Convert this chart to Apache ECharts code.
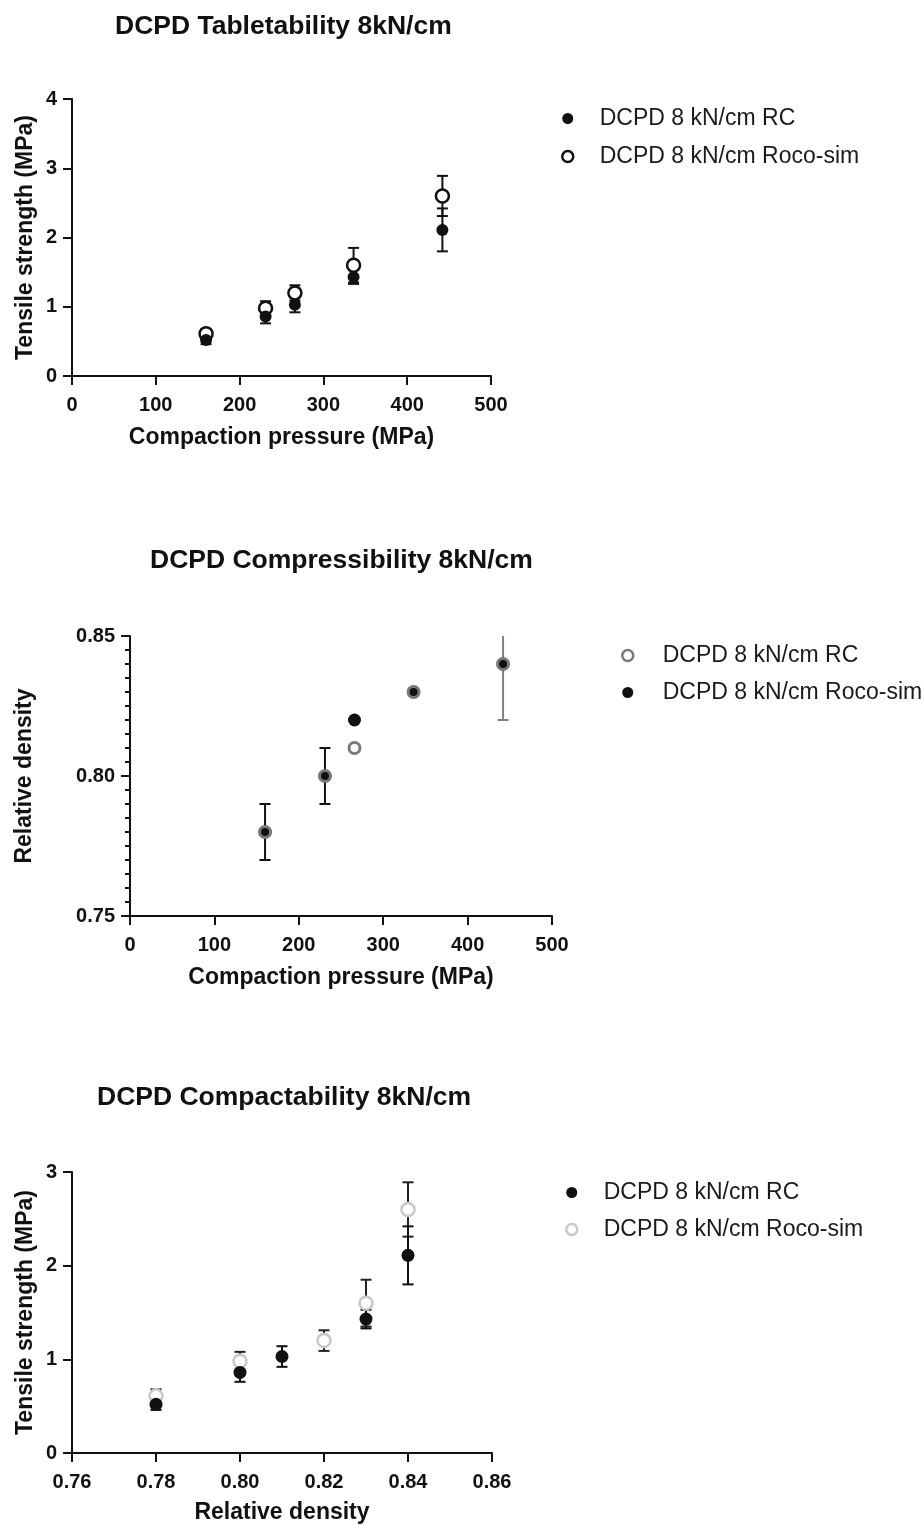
<!DOCTYPE html>
<html lang="en">
  <head>
    <meta charset="UTF-8" />
    <title>DCPD 8kN/cm</title>
    <script src="https://cdn.jsdelivr.net/npm/echarts@6/dist/echarts.min.js"></script>
    <style>
      html,
      body {
        margin: 0;
        padding: 0;
        background: #fff;
      }
      #chart {
        width: 924px;
        height: 1525px;
      }
    </style>
  </head>
  <body>
    <div id="chart"></div>

    <script>
      // compaction pressure (MPa)
      var pressure = [160, 231, 266, 336, 442];
      // tensile strength (MPa), mean and sd
      var tensileRC = [0.52, 0.86, 1.03, 1.43, 2.11];
      var tensileRCErr = [0.06, 0.1, 0.11, 0.1, 0.31];
      var tensileSim = [0.61, 0.98, 1.2, 1.6, 2.6];
      var tensileSimErr = [0.07, 0.1, 0.11, 0.25, 0.29];
      // relative density, mean and sd
      var densityRC = [0.78, 0.8, 0.81, 0.83, 0.84];
      var densityRCErr = [0, 0, 0, 0, 0.02];
      var densitySim = [0.78, 0.8, 0.82, 0.83, 0.84];
      var densitySimErr = [0.01, 0.01, 0, 0, 0];

      var nameRC = "DCPD 8 kN/cm RC";
      var nameSim = "DCPD 8 kN/cm Roco-sim";
      var titles = [
        "DCPD Tabletability 8kN/cm",
        "DCPD Compressibility 8kN/cm",
        "DCPD Compactability 8kN/cm",
      ];

      var FONT = '"Liberation Sans", Arial, sans-serif';
      var INK = "#111";

      var chart = echarts.init(document.getElementById("chart"));

      function pairs(xs, ys) {
        return xs.map((x, i) => [x, ys[i]]);
      }

      function errData(xs, ys, es) {
        return xs.map((x, i) => [x, ys[i], es[i]]).filter((d) => d[2] > 0);
      }

      // error bars drawn through the axis scales
      function errSeries(idx, data, color) {
        return {
          type: "custom",
          xAxisIndex: idx,
          yAxisIndex: idx,
          data: data,
          clip: true,
          silent: true,
          z: 1,
          encode: { x: 0, y: 1 },
          renderItem: function (params, api) {
            var x = api.value(0);
            var y = api.value(1);
            var e = api.value(2);
            var top = api.coord([x, y + e]);
            var bot = api.coord([x, y - e]);
            var w = 5.5;
            var st = { stroke: color, lineWidth: 2 };
            return {
              type: "group",
              children: [
                { type: "line", shape: { x1: top[0], y1: top[1], x2: bot[0], y2: bot[1] }, style: st },
                { type: "line", shape: { x1: top[0] - w, y1: top[1], x2: top[0] + w, y2: top[1] }, style: st },
                { type: "line", shape: { x1: bot[0] - w, y1: bot[1], x2: bot[0] + w, y2: bot[1] }, style: st },
              ],
            };
          },
        };
      }

      function axis(idx, min, max, interval, name, gap, digits, labelMargin) {
        return {
          type: "value",
          gridIndex: idx,
          min: min,
          max: max,
          interval: interval,
          name: name,
          nameLocation: "middle",
          nameGap: gap,
          nameTextStyle: { color: INK, fontSize: 23, fontWeight: "bold", fontFamily: FONT },
          axisLine: { show: true, onZero: false, lineStyle: { color: INK, width: 2 } },
          axisTick: { show: true, length: 9, lineStyle: { color: INK, width: 2 } },
          axisLabel: {
            color: INK,
            fontSize: 20,
            fontWeight: "bold",
            fontFamily: FONT,
            margin: labelMargin,
            formatter: (v) => (digits ? v.toFixed(digits) : String(v)),
          },
          splitLine: { show: false },
        };
      }

      function legendFor(left, top, width, gap, size, items) {
        return {
          orient: "vertical",
          left: left,
          top: top,
          padding: 0,
          itemWidth: width,
          itemHeight: 11,
          itemGap: gap,
          selectedMode: false,
          textStyle: { color: "#1a1a1a", fontSize: size, fontFamily: FONT },
          data: items,
        };
      }

      var titleStyle = { color: INK, fontSize: 26.5, fontWeight: "bold", fontFamily: FONT };

      var yDensity = axis(1, 0.75, 0.85, 0.05, "Relative density", 94, 2, 15);
      yDensity.minorTick = { show: true, splitNumber: 10, length: 5, lineStyle: { color: INK, width: 2 } };

      var option = {
        animation: false,
        backgroundColor: "#fff",
        title: [
          { text: titles[0], left: 115, top: 13, padding: 0, textStyle: titleStyle },
          { text: titles[1], left: 150, top: 547, padding: 0, textStyle: titleStyle },
          { text: titles[2], left: 97, top: 1084, padding: 0, textStyle: titleStyle },
        ],
        grid: [
          { left: 72, top: 99, width: 419, height: 277 },
          { left: 130, top: 636, width: 422, height: 280 },
          { left: 72, top: 1172, width: 420, height: 281 },
        ],
        xAxis: [
          axis(0, 0, 500, 100, "Compaction pressure (MPa)", 50, 0, 19),
          axis(1, 0, 500, 100, "Compaction pressure (MPa)", 50, 0, 19),
          axis(2, 0.76, 0.86, 0.02, "Relative density", 48, 2, 19),
        ],
        yAxis: [
          axis(0, 0, 4, 1, "Tensile strength (MPa)", 35, 0, 15),
          yDensity,
          axis(2, 0, 3, 1, "Tensile strength (MPa)", 35, 0, 15),
        ],
        legend: [
          legendFor(561, 107, 54, 15, 23, [
            { name: nameRC, icon: "circle", itemStyle: { color: INK, borderWidth: 0 } },
            { name: nameSim, icon: "circle", itemStyle: { color: "#fff", borderColor: INK, borderWidth: 2.5 } },
          ]),
          legendFor(621, 644, 60, 14, 23, [
            { name: nameRC, icon: "circle", itemStyle: { color: "#fff", borderColor: "#7a7a7a", borderWidth: 2.5 } },
            { name: nameSim, icon: "circle", itemStyle: { color: INK, borderWidth: 0 } },
          ]),
          legendFor(565, 1181, 54, 14, 23, [
            { name: nameRC, icon: "circle", itemStyle: { color: INK, borderWidth: 0 } },
            { name: nameSim, icon: "circle", itemStyle: { color: "#fff", borderColor: "#c8c8c8", borderWidth: 2.5 } },
          ]),
        ],
        series: [
          // tabletability
          errSeries(0, errData(pressure, tensileSim, tensileSimErr), INK),
          errSeries(0, errData(pressure, tensileRC, tensileRCErr), INK),
          {
            name: nameSim,
            type: "scatter",
            xAxisIndex: 0,
            yAxisIndex: 0,
            symbol: "circle",
            symbolSize: 13,
            z: 3,
            itemStyle: { color: "#fff", borderColor: INK, borderWidth: 2.5, opacity: 1 },
            emphasis: { disabled: true },
            data: pairs(pressure, tensileSim),
          },
          {
            name: nameRC,
            type: "scatter",
            xAxisIndex: 0,
            yAxisIndex: 0,
            symbol: "circle",
            symbolSize: 12,
            z: 4,
            itemStyle: { color: INK, opacity: 1 },
            emphasis: { disabled: true },
            data: pairs(pressure, tensileRC),
          },
          // compressibility
          errSeries(1, errData(pressure, densitySim, densitySimErr), INK),
          errSeries(1, errData(pressure, densityRC, densityRCErr), "#808080"),
          {
            name: nameSim,
            type: "scatter",
            xAxisIndex: 1,
            yAxisIndex: 1,
            symbol: "circle",
            symbolSize: 13,
            z: 3,
            itemStyle: { color: INK, opacity: 1 },
            emphasis: { disabled: true },
            data: pairs(pressure, densitySim),
          },
          {
            name: nameRC,
            type: "scatter",
            xAxisIndex: 1,
            yAxisIndex: 1,
            symbol: "circle",
            symbolSize: 11,
            z: 4,
            itemStyle: { color: "rgba(0,0,0,0)", borderColor: "#7a7a7a", borderWidth: 3, opacity: 1 },
            emphasis: { disabled: true },
            data: pairs(pressure, densityRC),
          },
          // compactability
          errSeries(2, errData(densitySim, tensileSim, tensileSimErr), "#222"),
          errSeries(2, errData(densityRC, tensileRC, tensileRCErr), INK),
          {
            name: nameSim,
            type: "scatter",
            xAxisIndex: 2,
            yAxisIndex: 2,
            symbol: "circle",
            symbolSize: 13,
            z: 3,
            itemStyle: { color: "#fff", borderColor: "#c8c8c8", borderWidth: 2.5, opacity: 1 },
            emphasis: { disabled: true },
            data: pairs(densitySim, tensileSim),
          },
          {
            name: nameRC,
            type: "scatter",
            xAxisIndex: 2,
            yAxisIndex: 2,
            symbol: "circle",
            symbolSize: 13,
            z: 4,
            itemStyle: { color: INK, opacity: 1 },
            emphasis: { disabled: true },
            data: pairs(densityRC, tensileRC),
          },
        ],
      };

      chart.setOption(option);
    </script>
  </body>
</html>
